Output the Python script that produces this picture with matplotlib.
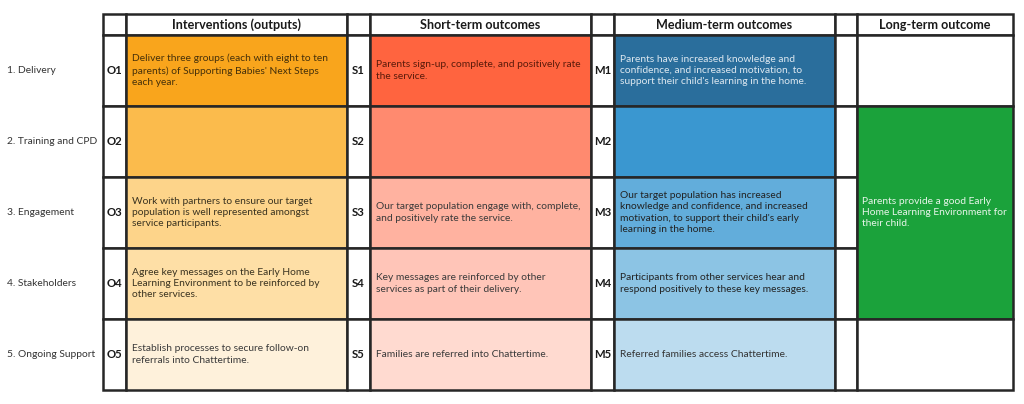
import matplotlib
matplotlib.use("Agg")
import matplotlib.pyplot as plt
from matplotlib.patches import Rectangle

# ---------------- data ----------------
row_labels = ["1. Delivery", "2. Training and CPD", "3. Engagement",
              "4. Stakeholders", "5. Ongoing Support"]
headers = ["Interventions (outputs)", "Short-term outcomes",
           "Medium-term outcomes", "Long-term outcome"]
out_codes = ["O1", "O2", "O3", "O4", "O5"]
short_codes = ["S1", "S2", "S3", "S4", "S5"]
med_codes = ["M1", "M2", "M3", "M4", "M5"]
out_texts = [
    "Deliver three groups (each with eight to ten\nparents) of Supporting Babies' Next Steps\neach year.",
    "",
    "Work with partners to ensure our target\npopulation is well represented amongst\nservice participants.",
    "Agree key messages on the Early Home\nLearning Environment to be reinforced by\nother services.",
    "Establish processes to secure follow-on\nreferrals into Chattertime.",
]
short_texts = [
    "Parents sign-up, complete, and positively rate\nthe service.",
    "",
    "Our target population engage with, complete,\nand positively rate the service.",
    "Key messages are reinforced by other\nservices as part of their delivery.",
    "Families are referred into Chattertime.",
]
med_texts = [
    "Parents have increased knowledge and\nconfidence, and increased motivation, to\nsupport their child's learning in the home.",
    "",
    "Our target population has increased\nknowledge and confidence, and increased\nmotivation, to support their child's early\nlearning in the home.",
    "Participants from other services hear and\nrespond positively to these key messages.",
    "Referred families access Chattertime.",
]
long_text = "Parents provide a good Early\nHome Learning Environment for\ntheir child."

out_colors = ["#F9A51C", "#FBBB4C", "#FDD48A", "#FEDFA6", "#FEF1DB"]
short_colors = ["#FF643F", "#FF8A6F", "#FFB2A0", "#FFC5B8", "#FFDAD0"]
med_colors = ["#2A6E9C", "#3A97D0", "#62ADDB", "#8CC4E4", "#BCDCEF"]
long_color = "#1BA23B"

out_text_colors = ["#45300a", "#333333", "#3a3320", "#3a3320", "#3a3a3a"]
short_text_colors = ["#5a1a0a", "#333333", "#3a3a3a", "#3a3a3a", "#3a3a3a"]
med_text_colors = ["#dde8f0", "#ffffff", "#222222", "#222222", "#333333"]

# ---------------- layout (pixels) ----------------
col_edges = [103, 126, 347, 370, 591, 614, 835, 857, 1013]
row_edges = [14, 35, 106, 177, 248, 319, 390]
lw = 1.8
edge = "#262626"
font = "Lato"

fig = plt.figure(figsize=(10.24, 4.04), dpi=100)
ax = fig.add_axes([0, 0, 1, 1])
ax.set_xlim(0, 1024)
ax.set_ylim(404, 0)
ax.axis("off")


def cell(x0, x1, y0, y1, color="white"):
    ax.add_patch(Rectangle((x0, y0), x1 - x0, y1 - y0, facecolor=color,
                           edgecolor=edge, linewidth=lw, zorder=2))


# header row
hy0, hy1 = row_edges[0], row_edges[1]
for i in range(8):
    cell(col_edges[i], col_edges[i + 1], hy0, hy1)
for k, h in enumerate(headers):
    xc = (col_edges[2 * k + 1] + col_edges[2 * k + 2]) / 2
    ax.text(xc, (hy0 + hy1) / 2 + 0.5, h, ha="center", va="center",
            fontsize=9.1, fontweight="bold", family=font, color="#1a1a1a", zorder=3)

groups = [(out_codes, out_texts, out_colors, out_text_colors),
          (short_codes, short_texts, short_colors, short_text_colors),
          (med_codes, med_texts, med_colors, med_text_colors)]

for r in range(5):
    y0, y1 = row_edges[r + 1], row_edges[r + 2]
    yc = (y0 + y1) / 2
    ax.text(7, yc, row_labels[r], ha="left", va="center", fontsize=7.4,
            family=font, color="#333333", zorder=3)
    for g, (codes, texts, colors, tcols) in enumerate(groups):
        cx0, cx1, cx2 = col_edges[2 * g], col_edges[2 * g + 1], col_edges[2 * g + 2]
        cell(cx0, cx1, y0, y1)
        ax.text((cx0 + cx1) / 2, yc, codes[r], ha="center", va="center",
                fontsize=8.2, fontweight="bold", family=font, color="#1a1a1a", zorder=3)
        cell(cx1, cx2, y0, y1, colors[r])
        if texts[r]:
            ax.text(cx1 + 6, yc, texts[r], ha="left", va="center", fontsize=7.4,
                    family=font, color=tcols[r], linespacing=1.35, zorder=3)
    # empty narrow column before long-term
    cell(col_edges[6], col_edges[7], y0, y1)

# long-term column: white row 1, green rows 2-4, white row 5
cell(col_edges[7], col_edges[8], row_edges[1], row_edges[2])
cell(col_edges[7], col_edges[8], row_edges[2], row_edges[5], long_color)
cell(col_edges[7], col_edges[8], row_edges[5], row_edges[6])
ax.text(col_edges[7] + 5, (row_edges[2] + row_edges[5]) / 2, long_text,
        ha="left", va="center", fontsize=7.4, family=font, color="#e8f5ea",
        linespacing=1.35, zorder=3)

fig.savefig("out.png", dpi=100, facecolor="white")
